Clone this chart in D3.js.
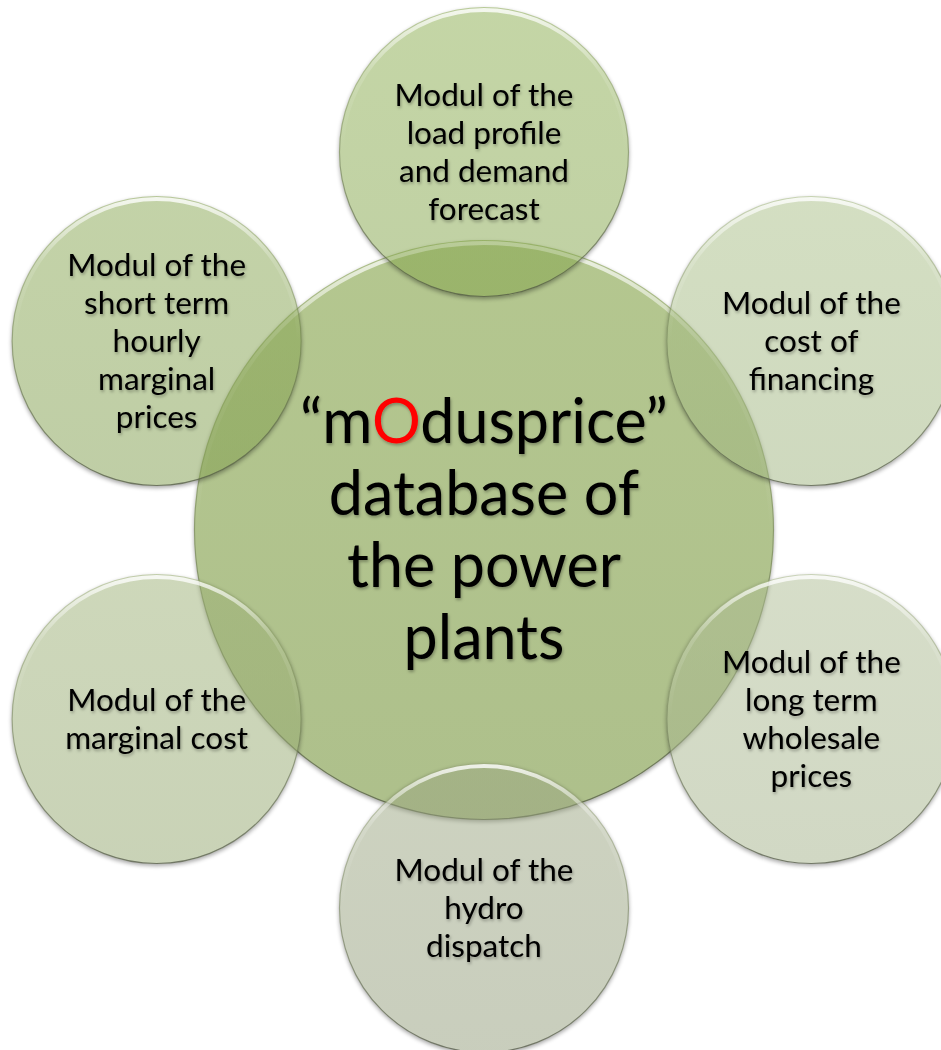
<!DOCTYPE html>
<html>
<head>
<meta charset="utf-8">
<script src="https://cdn.jsdelivr.net/npm/d3@7"></script>
<style>
  body { margin: 0; background: #ffffff; }
  svg { display: block; }
</style>
</head>
<body>
<div id="chart"></div>
<script>
// labels, clockwise from the top circle
var moduleLines = [
  ['Modul of the', 'load profile', 'and demand', 'forecast'],
  ['Modul of the', 'cost of', 'financing'],
  ['Modul of the', 'long term', 'wholesale', 'prices'],
  ['Modul of the', 'hydro', 'dispatch'],
  ['Modul of the', 'marginal cost'],
  ['Modul of the', 'short term', 'hourly', 'marginal', 'prices']
];
var centerLines = ['\u201cmOdusprice\u201d', 'database of', 'the power', 'plants'];
var centerHighlight = 'O';

var settings = {
  width: 941,
  height: 1050,
  cx: 484,
  cy: 530,
  center_r: 290,
  module_r: 145,
  module_dist: 378,

  font: 'Lato, Carlito, Calibri, sans-serif',
  module_font_size: 31.5,
  module_line: 38,
  module_baseline: 11,
  center_font_size: 61,
  center_line: 72,
  center_baseline: 21,

  center_color: '#94ae62',
  center_opacity: 0.72,
  module_colors: ['#87a94b', '#a5bb83', '#aab98f', '#98a37f', '#99ad73', '#85a34f'],
  module_opacity: 0.5,
  highlight_color: '#ff0000'
};

var svg = d3.select('#chart').append('svg')
  .attr('width', settings.width)
  .attr('height', settings.height);

var defs = svg.append('defs');

// light rim along the top edge
var rim = defs.append('linearGradient')
  .attr('id', 'rim').attr('x1', 0).attr('y1', 0).attr('x2', 0).attr('y2', 1);
rim.append('stop').attr('offset', 0).attr('stop-color', '#ffffff').attr('stop-opacity', 0.8);
rim.append('stop').attr('offset', 0.22).attr('stop-color', '#ffffff').attr('stop-opacity', 0.15);
rim.append('stop').attr('offset', 0.5).attr('stop-color', '#ffffff').attr('stop-opacity', 0);

// thin outline, darker at the bottom
var edge = defs.append('linearGradient')
  .attr('id', 'edge').attr('x1', 0).attr('y1', 0).attr('x2', 0).attr('y2', 1);
edge.append('stop').attr('offset', 0).attr('stop-color', '#7d8f56').attr('stop-opacity', 0.15);
edge.append('stop').attr('offset', 0.5).attr('stop-color', '#5f6b48').attr('stop-opacity', 0.45);
edge.append('stop').attr('offset', 1).attr('stop-color', '#4a4f40').attr('stop-opacity', 0.7);

defs.append('filter').attr('id', 'blur')
  .attr('x', -0.1).attr('y', -0.1).attr('width', 1.2).attr('height', 1.2)
  .append('feGaussianBlur').attr('stdDeviation', 2);

var textShadow = defs.append('filter').attr('id', 'textShadow')
  .attr('x', -0.1).attr('y', -0.2).attr('width', 1.2).attr('height', 1.5);
textShadow.append('feDropShadow')
  .attr('dx', 1).attr('dy', 2).attr('stdDeviation', 1.4)
  .attr('flood-color', '#000000').attr('flood-opacity', 0.3);

var angle = d3.scaleLinear()
  .domain([0, moduleLines.length])
  .range([-Math.PI / 2, Math.PI * 1.5]);

var circles = [{
  id: 'c', x: settings.cx, y: settings.cy, r: settings.center_r,
  color: settings.center_color, opacity: settings.center_opacity
}].concat(moduleLines.map(function(lines, i) {
  return {
    id: 'm' + i,
    lines: lines,
    x: settings.cx + settings.module_dist * Math.cos(angle(i)),
    y: settings.cy + settings.module_dist * Math.sin(angle(i)),
    r: settings.module_r,
    color: settings.module_colors[i],
    opacity: settings.module_opacity
  };
}));

circles.forEach(function(d) {
  var g = defs.append('linearGradient')
    .attr('id', 'fill-' + d.id).attr('x1', 0).attr('y1', 0).attr('x2', 0).attr('y2', 1);
  g.append('stop').attr('offset', 0)
    .attr('stop-color', d3.color(d.color).brighter(0.05)).attr('stop-opacity', d.opacity);
  g.append('stop').attr('offset', 1)
    .attr('stop-color', d3.color(d.color).darker(0.12)).attr('stop-opacity', d.opacity);

  var m = defs.append('mask').attr('id', 'out-' + d.id)
    .attr('maskUnits', 'userSpaceOnUse')
    .attr('x', 0).attr('y', 0).attr('width', settings.width).attr('height', settings.height);
  m.append('rect').attr('width', settings.width).attr('height', settings.height).attr('fill', '#fff');
  m.append('circle').attr('cx', d.x).attr('cy', d.y).attr('r', d.r).attr('fill', '#000');
});

var shape = svg.selectAll('g.shape')
  .data(circles)
  .enter().append('g')
  .attr('class', 'shape');

shape.append('circle')
  .attr('class', 'shadow')
  .attr('cx', function(d) { return d.x; })
  .attr('cy', function(d) { return d.y + 2; })
  .attr('r', function(d) { return d.r; })
  .attr('mask', function(d) { return 'url(#out-' + d.id + ')'; })
  .attr('filter', 'url(#blur)')
  .style('fill', '#000000')
  .style('opacity', 0.35);

shape.append('circle')
  .attr('class', 'body')
  .attr('cx', function(d) { return d.x; })
  .attr('cy', function(d) { return d.y; })
  .attr('r', function(d) { return d.r; })
  .style('fill', function(d) { return 'url(#fill-' + d.id + ')'; });

shape.append('circle')
  .attr('class', 'rim')
  .attr('cx', function(d) { return d.x; })
  .attr('cy', function(d) { return d.y; })
  .attr('r', function(d) { return d.r - 3; })
  .style('fill', 'none')
  .style('stroke', 'url(#rim)')
  .style('stroke-width', 4);

shape.append('circle')
  .attr('class', 'edge')
  .attr('cx', function(d) { return d.x; })
  .attr('cy', function(d) { return d.y; })
  .attr('r', function(d) { return d.r - 0.5; })
  .style('fill', 'none')
  .style('stroke', 'url(#edge)')
  .style('stroke-width', 1.2);

// module labels
var labels = svg.selectAll('text.module')
  .data(circles.slice(1))
  .enter().append('text')
  .attr('class', 'module')
  .attr('filter', 'url(#textShadow)')
  .style('font-family', settings.font)
  .style('font-size', settings.module_font_size + 'px')
  .style('text-anchor', 'middle')
  .style('fill', '#000000');

labels.selectAll('tspan')
  .data(function(d) {
    return d.lines.map(function(t, i) {
      return { t: t, x: d.x, y: d.y + (i - (d.lines.length - 1) / 2) * settings.module_line + settings.module_baseline };
    });
  })
  .enter().append('tspan')
  .attr('x', function(d) { return d.x; })
  .attr('y', function(d) { return d.y; })
  .text(function(d) { return d.t; });

// center label
var center = svg.append('text')
  .attr('class', 'center')
  .attr('filter', 'url(#textShadow)')
  .style('font-family', settings.font)
  .style('font-size', settings.center_font_size + 'px')
  .style('text-anchor', 'middle')
  .style('fill', '#000000');

centerLines.forEach(function(line, i) {
  var y = settings.cy + (i - (centerLines.length - 1) / 2) * settings.center_line + settings.center_baseline;
  var k = line.indexOf(centerHighlight);
  if (k < 0) {
    center.append('tspan').attr('x', settings.cx).attr('y', y).text(line);
  } else {
    center.append('tspan').attr('x', settings.cx).attr('y', y).text(line.slice(0, k));
    center.append('tspan').style('fill', settings.highlight_color).text(centerHighlight);
    center.append('tspan').text(line.slice(k + 1));
  }
});
</script>
</body>
</html>
